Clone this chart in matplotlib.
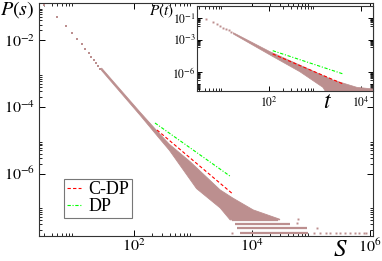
import numpy as np
import matplotlib
matplotlib.use('Agg')
import matplotlib.pyplot as plt
from matplotlib.ticker import FixedLocator, NullFormatter, FixedFormatter

plt.rcParams['font.family'] = ['Liberation Serif', 'DejaVu Serif']
plt.rcParams['mathtext.fontset'] = 'stix'

BROWN = '#bc8f8f'

# ---------------- main panel data (log10 values) -------------
s_pts = [3, 5, 7, 9, 11, 13, 15, 17, 19, 21, 23, 25, 27]
logP_pts = [-0.94, -1.30, -1.57, -1.79, -1.97, -2.12, -2.26, -2.38, -2.49, -2.59, -2.69, -2.78, -2.86]

band_up_logs = [1.45, 2.10, 2.41, 2.60, 2.95, 3.46, 3.68, 4.02, 4.47]
band_up_logP = [-2.83, -4.15, -4.76, -5.12, -5.64, -6.49, -6.74, -7.09, -7.37]
band_lo_logs = [1.45, 2.10, 2.41, 2.60, 3.06, 3.46, 3.63, 4.47]
band_lo_logP = [-2.90, -4.24, -4.90, -5.30, -6.45, -7.03, -7.39, -7.39]

floor_logP = [-7.39, -7.51, -7.64, -7.79]
floor_start = [3.66, 3.71, 3.74, 3.80]
floor_end = [4.44, 4.64, 4.93, 4.95]

stray_logs = [4.78, 4.76, 5.10, 3.66, 5.05, 5.15, 5.25, 5.33, 5.42, 5.50, 5.58, 5.66, 5.74, 5.82, 5.90, 5.94]
stray_logP = [-7.37, -7.49, -7.63, -7.79, -7.79, -7.79, -7.79, -7.79, -7.79, -7.79, -7.79, -7.79, -7.79, -7.79, -7.79, -7.79]

cdp_logs = [2.39, 3.66]
cdp_logP = [-4.69, -6.59]
dp_logs = [2.356, 3.639]
dp_logP = [-4.48, -6.09]

# ---------------- inset data -------------
t_pts_log = [0.63, 0.776, 0.863, 0.935, 1.007, 1.065, 1.12, 1.18]
Pt_pts_log = [-1.12, -1.39, -1.58, -1.73, -1.89, -2.01, -2.13, -2.26]

in_up_logt = [1.224, 2.02, 2.82, 3.39, 3.91, 4.26, 4.35]
in_up_logP = [-2.35, -4.09, -5.61, -6.69, -7.36, -7.51, -7.53]
in_lo_logt = [1.224, 2.02, 2.67, 3.17, 3.25, 4.35]
in_lo_logP = [-2.47, -4.39, -5.93, -7.36, -7.90, -7.90]

in_cdp_logt = [2.08, 3.615]
in_cdp_logP = [-4.30, -7.06]
in_dp_logt = [2.08, 3.615]
in_dp_logP = [-4.00, -6.14]

main_xticks = [1e2, 1e4, 1e6]
main_xlabels = [r'$10^{2}$', r'$10^{4}$', r'$10^{6}$']
main_yticks = [1e-2, 1e-4, 1e-6]
main_ylabels = [r'$10^{-2}$', r'$10^{-4}$', r'$10^{-6}$']
in_xticks = [1e2, 1e4]
in_xlabels = [r'$10^{2}$', r'$10^{4}$']
in_yticks = [1e-1, 1e-3, 1e-6]
in_ylabels = [r'$10^{-1}$', r'$10^{-3}$', r'$10^{-6}$']

p = lambda a: 10 ** np.asarray(a, dtype=float)

W, H = 382, 261
fig = plt.figure(figsize=(W / 100, H / 100), dpi=100)

def frac_axes(x0, y0, x1, y1):
    return [x0 / W, 1 - y1 / H, (x1 - x0) / W, (y1 - y0) / H]

ax = fig.add_axes(frac_axes(39, 3, 372.7, 236))
ax.set_xscale('log')
ax.set_yscale('log')
ax.set_xlim(10 ** 0.39, 10 ** 6.046)
ax.set_ylim(10 ** -7.874, 10 ** -0.877)

bx = list(band_up_logs) + list(band_lo_logs[::-1])
by = list(band_up_logP) + list(band_lo_logP[::-1])
ax.fill(p(bx), p(by), color=BROWN, lw=0.6, ec=BROWN, zorder=2)
ax.plot(s_pts, p(logP_pts), ls='none', marker='s', ms=1.6, color=BROWN, mew=0, zorder=3)
for lp, a, b in zip(floor_logP, floor_start, floor_end):
    ax.plot(p([a, b]), p([lp, lp]), color=BROWN, lw=1.6, solid_capstyle='butt', zorder=2)
ax.plot(p(stray_logs), p(stray_logP), ls='none', marker='s', ms=1.4, color=BROWN, mew=0, zorder=2)

ax.plot(p(cdp_logs), p(cdp_logP), color='#ff0000', lw=0.8, ls=(0, (3, 2)), label='C-DP', zorder=4)
ax.plot(p(dp_logs), p(dp_logP), color='#00ff00', lw=0.8, ls=(0, (3, 1.5, 1, 1.5)), label='DP', zorder=4)

def minor_list(decades, lo, hi):
    out = []
    for d in decades:
        for k in range(2, 10):
            v = k * 10.0 ** d
            if lo < v < hi:
                out.append(v)
    return out

ax.xaxis.set_major_locator(FixedLocator(main_xticks))
ax.xaxis.set_major_formatter(FixedFormatter(main_xlabels))
ax.xaxis.set_minor_locator(FixedLocator(minor_list([0, 2, 4], 1, 1e7)))
ax.xaxis.set_minor_formatter(NullFormatter())
ax.yaxis.set_major_locator(FixedLocator(main_yticks))
ax.yaxis.set_major_formatter(FixedFormatter(main_ylabels))
ax.yaxis.set_minor_locator(FixedLocator(minor_list([-2, -4, -6, -8], 1e-9, 1)))
ax.yaxis.set_minor_formatter(NullFormatter())
ax.tick_params(which='both', direction='in', top=True, right=True, labelsize=11.5, colors='black')
ax.tick_params(which='major', length=4.5, width=0.7)
ax.tick_params(which='minor', length=2.3, width=0.6)
ax.tick_params(axis='x', pad=2)
ax.tick_params(axis='y', pad=3)
for sp in ax.spines.values():
    sp.set_linewidth(0.8)
    sp.set_color('#333333')

leg = ax.legend(loc='lower left', bbox_to_anchor=((64 - 39) / 333.7, (236 - 218) / 233),
                borderaxespad=0, fontsize=13, frameon=True, fancybox=False,
                handlelength=0.8, handletextpad=0.4, labelspacing=0.0, borderpad=0.15)
leg.get_frame().set_edgecolor('#555555')
leg.get_frame().set_linewidth(0.8)

fig.text(0 / W, 1 - 10 / H, r'$P(s)$', fontsize=14.5, ha='left', va='center')
fig.text(340 / W, 1 - 250 / H, r'$S$', fontsize=18, ha='center', va='center')

# ---------------- inset -------------
ai = fig.add_axes(frac_axes(197.3, 6, 373, 90.7))
ai.set_xscale('log')
ai.set_yscale('log')
ai.set_xlim(10 ** 0.44, 10 ** 4.26)
ai.set_ylim(10 ** -7.67, 10 ** 0.10)
ix = list(in_up_logt) + list(in_lo_logt[::-1])
iy = list(in_up_logP) + list(in_lo_logP[::-1])
ai.fill(p(ix), p(iy), color=BROWN, lw=0.5, ec=BROWN, zorder=2)
ai.plot(p(t_pts_log), p(Pt_pts_log), ls='none', marker='s', ms=1.4, color=BROWN, mew=0, zorder=3)
ai.plot(p(in_cdp_logt), p(in_cdp_logP), color='#ff0000', lw=0.8, ls=(0, (3, 2)), zorder=4)
ai.plot(p(in_dp_logt), p(in_dp_logP), color='#00ff00', lw=0.8, ls=(0, (3, 1.5, 1, 1.5)), zorder=4)

ai.xaxis.set_major_locator(FixedLocator(in_xticks))
ai.xaxis.set_major_formatter(FixedFormatter(in_xlabels))
ai.xaxis.set_minor_locator(FixedLocator(minor_list([0, 2], 1, 1e5)))
ai.xaxis.set_minor_formatter(NullFormatter())
ai.yaxis.set_major_locator(FixedLocator(in_yticks))
ai.yaxis.set_major_formatter(FixedFormatter(in_ylabels))
ai.yaxis.set_minor_locator(FixedLocator(minor_list([-2, -4, -7, -8], 1e-9, 1)))
ai.yaxis.set_minor_formatter(NullFormatter())
ai.tick_params(which='both', direction='in', top=True, right=True, labelsize=8.5, colors='black')
ai.tick_params(which='major', length=3.5, width=0.7)
ai.tick_params(which='minor', length=2.0, width=0.6)
ai.tick_params(axis='x', pad=3.5)
ai.tick_params(axis='y', pad=1)
for sp in ai.spines.values():
    sp.set_linewidth(0.8)
    sp.set_color('#333333')

fig.text(161.5 / W, 1 - 11 / H, r'$P(t)$', fontsize=11, ha='center', va='center')
fig.text(327.5 / W, 1 - 102.5 / H, r'$t$', fontsize=17, ha='center', va='center')

fig.savefig('out.png', dpi=100)
